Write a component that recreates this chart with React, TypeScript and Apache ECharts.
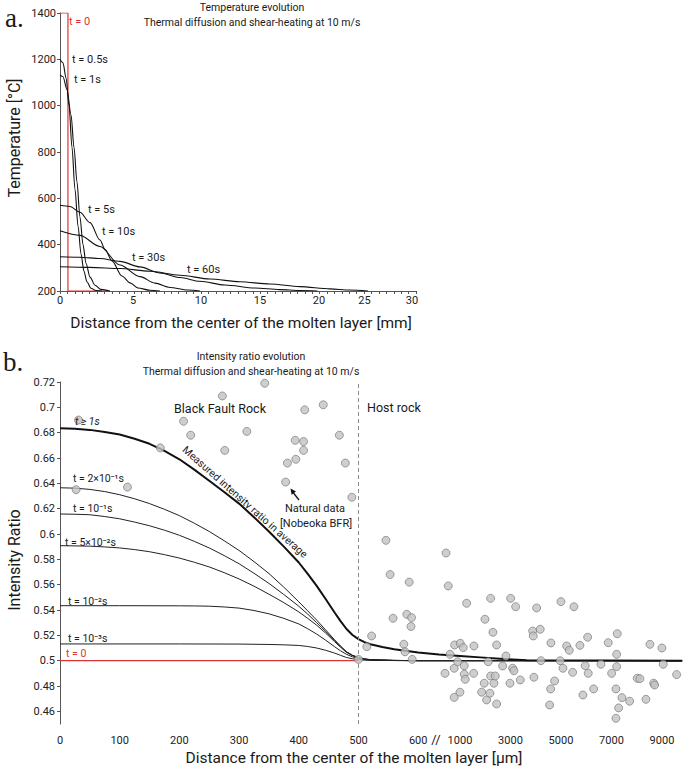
import React, { useEffect, useRef } from "react";
import * as echarts from "echarts";

// ---------------- Panel a: temperature evolution ----------------
const aXTickLabels = ["0", "5", "10", "15", "20", "25", "30"];
const aXTickPos = [0, 6.15, 11.88, 16.85, 21.82, 25.66, 29.66];

const aT0 = [[0, 1400], [0.67, 1400], [0.67, 200], [3.9, 200]];
const aT05 = [[0, 1200], [0.25, 1185], [0.51, 1120], [0.76, 1000], [1.01, 820], [1.26, 640], [1.52, 480], [1.77, 360], [2.02, 285], [2.27, 240], [2.61, 212], [3.03, 202], [3.54, 200]];
const aT1 = [[0, 1133], [0.25, 1125], [0.59, 1070], [0.93, 960], [1.18, 820], [1.43, 670], [1.68, 520], [1.94, 400], [2.19, 320], [2.53, 260], [2.95, 225], [3.45, 207], [4.21, 200]];
const aT5 = [[0, 570], [0.84, 565], [1.68, 540], [2.53, 495], [3.37, 420], [3.79, 380], [4.38, 330], [5.22, 265], [5.9, 235], [6.57, 213], [7.58, 203], [8.42, 200]];
const aT10 = [[0, 460], [1.68, 440], [3.37, 392], [5.05, 312], [6.74, 262], [8.0, 234], [9.27, 215], [10.78, 204], [11.79, 200]];
const aT30 = [[0, 348], [1.68, 346], [3.37, 340], [5.05, 328], [6.74, 304], [8.42, 278], [10.11, 258], [11.79, 242], [13.9, 226], [16.43, 213], [18.5, 206], [20.2, 202], [21.7, 200]];
const aT60 = [[0, 305], [2.53, 302], [5.05, 297], [7.58, 285], [10.11, 268], [12.64, 252], [15.16, 240], [17.69, 230], [20.22, 219], [22.75, 209], [24.43, 204], [25.95, 200]];

// ---------------- Panel b: intensity ratio evolution ----------------
const bXTickLabels = [0, 100, 200, 300, 400, 500, 600, 1000, 3000, 5000, 7000, 9000];
const bYTickLabels = [0.46, 0.48, 0.5, 0.52, 0.54, 0.56, 0.58, 0.6, 0.62, 0.64, 0.66, 0.68, 0.7, 0.72];

const bT0 = [[0, 0.5], [500, 0.5]];
const bT1 = [[0, 0.6834], [25, 0.6831], [50, 0.6822], [75, 0.6806], [100, 0.6785], [125, 0.6752], [150, 0.6712], [175, 0.6656], [200, 0.659], [225, 0.6508], [250, 0.642], [275, 0.6332], [300, 0.624], [325, 0.6133], [350, 0.602], [375, 0.59], [400, 0.5775], [415, 0.5685], [430, 0.559], [445, 0.5487], [460, 0.538], [470, 0.5312], [480, 0.525], [490, 0.5203], [500, 0.517], [510, 0.5146], [520, 0.513], [540, 0.5108], [560, 0.509], [600, 0.5065], [800, 0.5048], [1000, 0.5037], [1800, 0.5026], [2584, 0.5016], [3650, 0.5003], [9800, 0.5]];
const bT2e1 = [[0, 0.6365], [25, 0.6362], [50, 0.6352], [75, 0.6335], [100, 0.631], [125, 0.6278], [150, 0.624], [175, 0.6195], [200, 0.6145], [225, 0.6085], [250, 0.602], [275, 0.5947], [300, 0.587], [325, 0.5782], [350, 0.5688], [375, 0.558], [400, 0.5465], [415, 0.5393], [430, 0.532], [445, 0.5243], [460, 0.5165], [470, 0.5115], [480, 0.507], [490, 0.5042], [500, 0.5025], [510, 0.5014], [520, 0.5008], [560, 0.5002], [600, 0.5], [9800, 0.5]];
const bT1e1 = [[0, 0.6158], [25, 0.6156], [50, 0.6152], [75, 0.6138], [100, 0.612], [125, 0.6094], [150, 0.6065], [175, 0.603], [200, 0.599], [225, 0.5942], [250, 0.589], [275, 0.583], [300, 0.5765], [325, 0.5690], [350, 0.561], [375, 0.5522], [400, 0.543], [415, 0.5367], [430, 0.53], [445, 0.5231], [460, 0.516], [470, 0.5112], [480, 0.507], [490, 0.5042], [500, 0.5025], [510, 0.5014], [520, 0.5008], [560, 0.5002], [600, 0.5], [9800, 0.5]];
const bT5e2 = [[0, 0.5908], [50, 0.5904], [75, 0.5898], [100, 0.589], [125, 0.5877], [150, 0.586], [175, 0.5837], [200, 0.581], [225, 0.5777], [250, 0.574], [275, 0.5695], [300, 0.5645], [325, 0.5588], [350, 0.5525], [375, 0.5458], [400, 0.5385], [415, 0.5334], [430, 0.528], [445, 0.5218], [460, 0.515], [470, 0.5106], [480, 0.5065], [490, 0.504], [500, 0.5022], [510, 0.5012], [520, 0.5007], [560, 0.5002], [600, 0.5], [9800, 0.5]];
const bT1e2 = [[0, 0.5434], [100, 0.5434], [200, 0.5433], [225, 0.5432], [250, 0.543], [275, 0.5424], [300, 0.5415], [325, 0.5396], [350, 0.537], [375, 0.5334], [400, 0.529], [415, 0.5252], [430, 0.521], [445, 0.5162], [460, 0.511], [470, 0.5078], [480, 0.505], [490, 0.503], [500, 0.5018], [510, 0.501], [520, 0.5005], [560, 0.5001], [600, 0.5], [9800, 0.5]];
const bT1e3 = [[0, 0.5132], [200, 0.5132], [300, 0.5131], [350, 0.5128], [375, 0.5125], [400, 0.512], [415, 0.5112], [430, 0.51], [445, 0.5082], [460, 0.506], [470, 0.5042], [480, 0.5025], [490, 0.5015], [500, 0.5008], [510, 0.5004], [520, 0.5002], [600, 0.5], [9800, 0.5]];

const bfrPoints = [[31, 0.69], [27, 0.635], [113, 0.637], [168, 0.668], [207, 0.689], [219, 0.678], [272, 0.709], [276, 0.666], [313, 0.681], [343, 0.719], [378, 0.641], [381, 0.656], [394, 0.674], [395, 0.659], [410, 0.698], [408, 0.673], [408, 0.666], [441, 0.702], [468, 0.678], [478, 0.656], [489, 0.629]];

const hostPoints = [
  [500, 0.501], [514, 0.511], [522, 0.5195], [546, 0.595], [553, 0.568], [585, 0.562], [558, 0.5335], [581, 0.5366], [589, 0.534], [588, 0.527],
  [576, 0.513], [578, 0.507], [590, 0.501], [867, 0.585], [888, 0.559], [905, 0.505], [949, 0.5124], [857, 0.49], [945, 0.471], [945, 0.494],
  [978, 0.4992], [1000, 0.4751], [1012, 0.5137], [1131, 0.5103], [1170, 0.496], [1170, 0.4893], [1210, 0.4853], [1265, 0.5453], [1543, 0.49], [1554, 0.5116],
  [1859, 0.4751], [1962, 0.4822], [1990, 0.5327], [2057, 0.469], [2121, 0.4992], [2188, 0.4743], [2216, 0.5492], [2216, 0.4879], [2307, 0.5224], [2346, 0.4822],
  [2398, 0.4879], [2453, 0.5124], [2453, 0.4658], [2691, 0.4958], [2822, 0.5037], [2980, 0.4822], [3008, 0.5492], [3087, 0.494], [3138, 0.4921], [3206, 0.5426],
  [3388, 0.4848], [3879, 0.5234], [3903, 0.5195], [3930, 0.4869], [4037, 0.5416], [4180, 0.5248], [4208, 0.5], [4552, 0.465], [4592, 0.4777], [4604, 0.514],
  [4750, 0.484], [4972, 0.5], [5000, 0.5466], [5079, 0.494], [5226, 0.5116], [5329, 0.5082], [5463, 0.4908], [5514, 0.5426], [5752, 0.5121], [5871, 0.4729],
  [5962, 0.496], [6057, 0.5185], [6081, 0.49], [6295, 0.4777], [6584, 0.4972], [6873, 0.5142], [7008, 0.49], [7206, 0.505], [7206, 0.4953], [7230, 0.5213],
  [7178, 0.4777], [7415, 0.4708], [7285, 0.4627], [7178, 0.4545], [7720, 0.468], [8021, 0.4861], [8128, 0.4858], [8366, 0.4695], [8524, 0.5129], [8671, 0.4822],
  [8710, 0.4808], [9000, 0.51], [9051, 0.4972], [9582, 0.489],
];

// broken x axis of panel b: linear 0-600 µm, compressed gap 600-1000, then 1000-9800 µm
function toAxis(um: number): number {
  if (um <= 600) return um;
  if (um <= 1000) return 600 + ((um - 600) * 70) / 400;
  return 670 + (um - 1000) * 0.0423;
}

const FONT = "Roboto, 'Noto Sans', 'DejaVu Sans', sans-serif";
const RED = "#d93535";

function txt(text: string, x: number, y: number, size: number, extra: any = {}) {
  return {
    type: "text",
    x,
    y,
    rotation: extra.rotation || 0,
    style: {
      text,
      fill: extra.fill || "#1a1a1a",
      font: `${extra.style || "normal"} normal ${size}px ${extra.family || FONT}`,
      textAlign: extra.align || "left",
      textVerticalAlign: "middle",
    },
    z: 100,
  };
}

export default function App() {
  const ref = useRef<HTMLDivElement>(null);

  useEffect(() => {
    if (!ref.current) return;
    const chart = echarts.init(ref.current, null, { renderer: "svg" });

    const aMinorTicks = Array.from({ length: 49 }, (_, i) => i * 0.625);
    const bXPos = bXTickLabels.map(toAxis);

    const thin = (data: number[][], name: string, color = "#222", width = 1) => ({
      type: "line",
      name,
      data: data.map(([u, v]) => [toAxis(u), v]),
      xAxisIndex: 1,
      yAxisIndex: 1,
      showSymbol: false,
      symbol: "none",
      smooth: false,
      lineStyle: { color, width, join: "round" },
      z: 3,
    });

    const aLine = (data: number[][], name: string) => ({
      type: "line",
      name,
      data,
      xAxisIndex: 0,
      yAxisIndex: 0,
      showSymbol: false,
      symbol: "none",
      smooth: 0.3,
      smoothMonotone: "x",
      lineStyle: { color: "#111", width: 1.1 },
      z: 3,
    });

    const axisLabelStyle = { fontSize: 11, color: "#222", fontFamily: FONT };

    const option: any = {
      animation: false,
      textStyle: { fontFamily: FONT },
      grid: [
        { left: 60, top: 13, width: 356, height: 278 },
        { left: 60, top: 382, width: 622, height: 342 },
      ],
      xAxis: [
        {
          gridIndex: 0,
          type: "value",
          min: 0,
          max: 30,
          axisLine: { show: true, onZero: false, lineStyle: { color: "#555", width: 1 } },
          axisTick: { show: true, customValues: aMinorTicks, length: 3, lineStyle: { color: "#555" } },
          axisLabel: {
            ...axisLabelStyle,
            margin: 4,
            customValues: aXTickPos,
            formatter: (v: number) => {
              const i = aXTickPos.findIndex((p) => Math.abs(p - v) < 1e-6);
              return i >= 0 ? aXTickLabels[i] : "";
            },
          },
          splitLine: { show: false },
        },
        {
          gridIndex: 1,
          type: "value",
          min: 0,
          max: 1042,
          axisLine: { show: false, onZero: false },
          axisTick: { show: false },
          axisLabel: {
            ...axisLabelStyle,
            margin: 11,
            customValues: bXPos,
            formatter: (v: number) => {
              const i = bXPos.findIndex((p) => Math.abs(p - v) < 1e-6);
              return i >= 0 ? String(bXTickLabels[i]) : "";
            },
          },
          splitLine: { show: false },
        },
      ],
      yAxis: [
        {
          gridIndex: 0,
          type: "value",
          min: 200,
          max: 1400,
          interval: 200,
          axisLine: { show: true, onZero: false, lineStyle: { color: "#555", width: 1 } },
          axisTick: { show: true, length: 3, lineStyle: { color: "#555" } },
          axisLabel: { ...axisLabelStyle, margin: 4, formatter: (v: number) => String(v) },
          splitLine: { show: false },
        },
        {
          gridIndex: 1,
          type: "value",
          min: 0.45,
          max: 0.72,
          axisLine: { show: true, onZero: false, lineStyle: { color: "#555", width: 1 } },
          axisTick: { show: true, length: 3, customValues: bYTickLabels, lineStyle: { color: "#555" } },
          axisLabel: {
            ...axisLabelStyle,
            margin: 5,
            customValues: bYTickLabels,
            formatter: (v: number) => String(Math.round(v * 100) / 100),
          },
          splitLine: { show: false },
        },
      ],
      series: [
        {
          type: "line",
          name: "a t=0",
          data: aT0,
          xAxisIndex: 0,
          yAxisIndex: 0,
          showSymbol: false,
          symbol: "none",
          lineStyle: { color: RED, width: 1.2 },
          z: 2,
        },
        aLine(aT05, "t=0.5s"),
        aLine(aT1, "t=1s"),
        aLine(aT5, "t=5s"),
        aLine(aT10, "t=10s"),
        aLine(aT30, "t=30s"),
        aLine(aT60, "t=60s"),
        {
          type: "line",
          name: "b t=0",
          data: bT0.map(([u, v]) => [toAxis(u), v]),
          xAxisIndex: 1,
          yAxisIndex: 1,
          showSymbol: false,
          symbol: "none",
          lineStyle: { color: RED, width: 1.4 },
          z: 2,
          markLine: {
            silent: true,
            symbol: "none",
            label: { show: false },
            lineStyle: { type: [4, 3], color: "#8a8a8a", width: 1 },
            data: [{ xAxis: toAxis(500) }],
          },
        },
        thin(bT1e3, "t=1e-3s"),
        thin(bT1e2, "t=1e-2s"),
        thin(bT5e2, "t=5e-2s"),
        thin(bT1e1, "t=1e-1s"),
        thin(bT2e1, "t=2e-1s"),
        thin(bT1, "t>=1s", "#111", 2),
        {
          type: "scatter",
          name: "Natural data",
          xAxisIndex: 1,
          yAxisIndex: 1,
          data: bfrPoints.concat(hostPoints).map(([u, v]) => [toAxis(u), v]),
          symbol: "circle",
          symbolSize: 8,
          itemStyle: { color: "#c2c2c2", borderColor: "#6f6f6f", borderWidth: 0.8 },
          z: 5,
        },
      ],
      graphic: [
        txt("a.", 5, 18, 27, { family: "'Liberation Serif', 'DejaVu Serif', serif" }),
        txt("b.", 3, 362, 27, { family: "'Liberation Serif', 'DejaVu Serif', serif" }),
        txt("Temperature evolution", 252, 7, 10.5, { align: "center" }),
        txt("Thermal diffusion and shear-heating at 10 m/s", 252, 22, 10.5, { align: "center" }),
        txt("Temperature [°C]", 14, 138, 16, { align: "center", rotation: Math.PI / 2 }),
        txt("Distance from the center of the molten layer [mm]", 241, 323, 15.5, { align: "center" }),
        txt("t = 0", 69, 21, 11, { fill: RED }),
        txt("t = 0.5s", 72, 59, 11),
        txt("t = 1s", 74, 79, 11),
        txt("t = 5s", 88, 209, 11),
        txt("t = 10s", 102, 231, 11),
        txt("t = 30s", 132, 257, 11),
        txt("t = 60s", 187, 269, 11),

        txt("Intensity ratio evolution", 251, 356, 10.5, { align: "center" }),
        txt("Thermal diffusion and shear-heating at 10 m/s", 251, 371, 10.5, { align: "center" }),
        txt("Intensity Ratio", 14, 560, 16, { align: "center", rotation: Math.PI / 2 }),
        txt("Distance from the center of the molten layer [µm]", 354, 758, 15.5, { align: "center" }),
        txt("//", 436, 739, 13, { align: "center" }),
        txt("Black Fault Rock", 220, 408, 12.5, { align: "center" }),
        txt("Host rock", 367, 407, 12.5),
        txt("t ≥ 1s", 75, 421, 10.5, { style: "italic" }),
        txt("t = 2×10⁻¹s", 73, 478, 10.5),
        txt("t = 10⁻¹s", 73, 508, 10.5),
        txt("t = 5×10⁻²s", 65, 542, 10.5),
        txt("t = 10⁻²s", 68, 601, 10.5),
        txt("t = 10⁻³s", 68, 638, 10.5),
        txt("t = 0", 66, 653, 10.5, { fill: RED }),
        txt("Measured intensity ratio in average", 245, 502, 10.5, { align: "center", rotation: -0.724 }),
        txt("Natural data", 315, 508, 11, { align: "center" }),
        txt("[Nobeoka BFR]", 316, 523, 11, { align: "center" }),
        {
          type: "line",
          shape: { x1: 299, y1: 500, x2: 293.5, y2: 493 },
          style: { stroke: "#111", lineWidth: 1.3 },
          z: 100,
        },
        {
          type: "polygon",
          shape: { points: [[290.5, 488.5], [296, 491.6], [291.6, 494.8]] },
          style: { fill: "#111" },
          z: 100,
        },
      ],
    };

    chart.setOption(option);
    return () => chart.dispose();
  }, []);

  return (
    <div
      ref={ref}
      style={{ position: "fixed", left: 0, top: 0, width: 685, height: 771, background: "#fff" }}
    />
  );
}
